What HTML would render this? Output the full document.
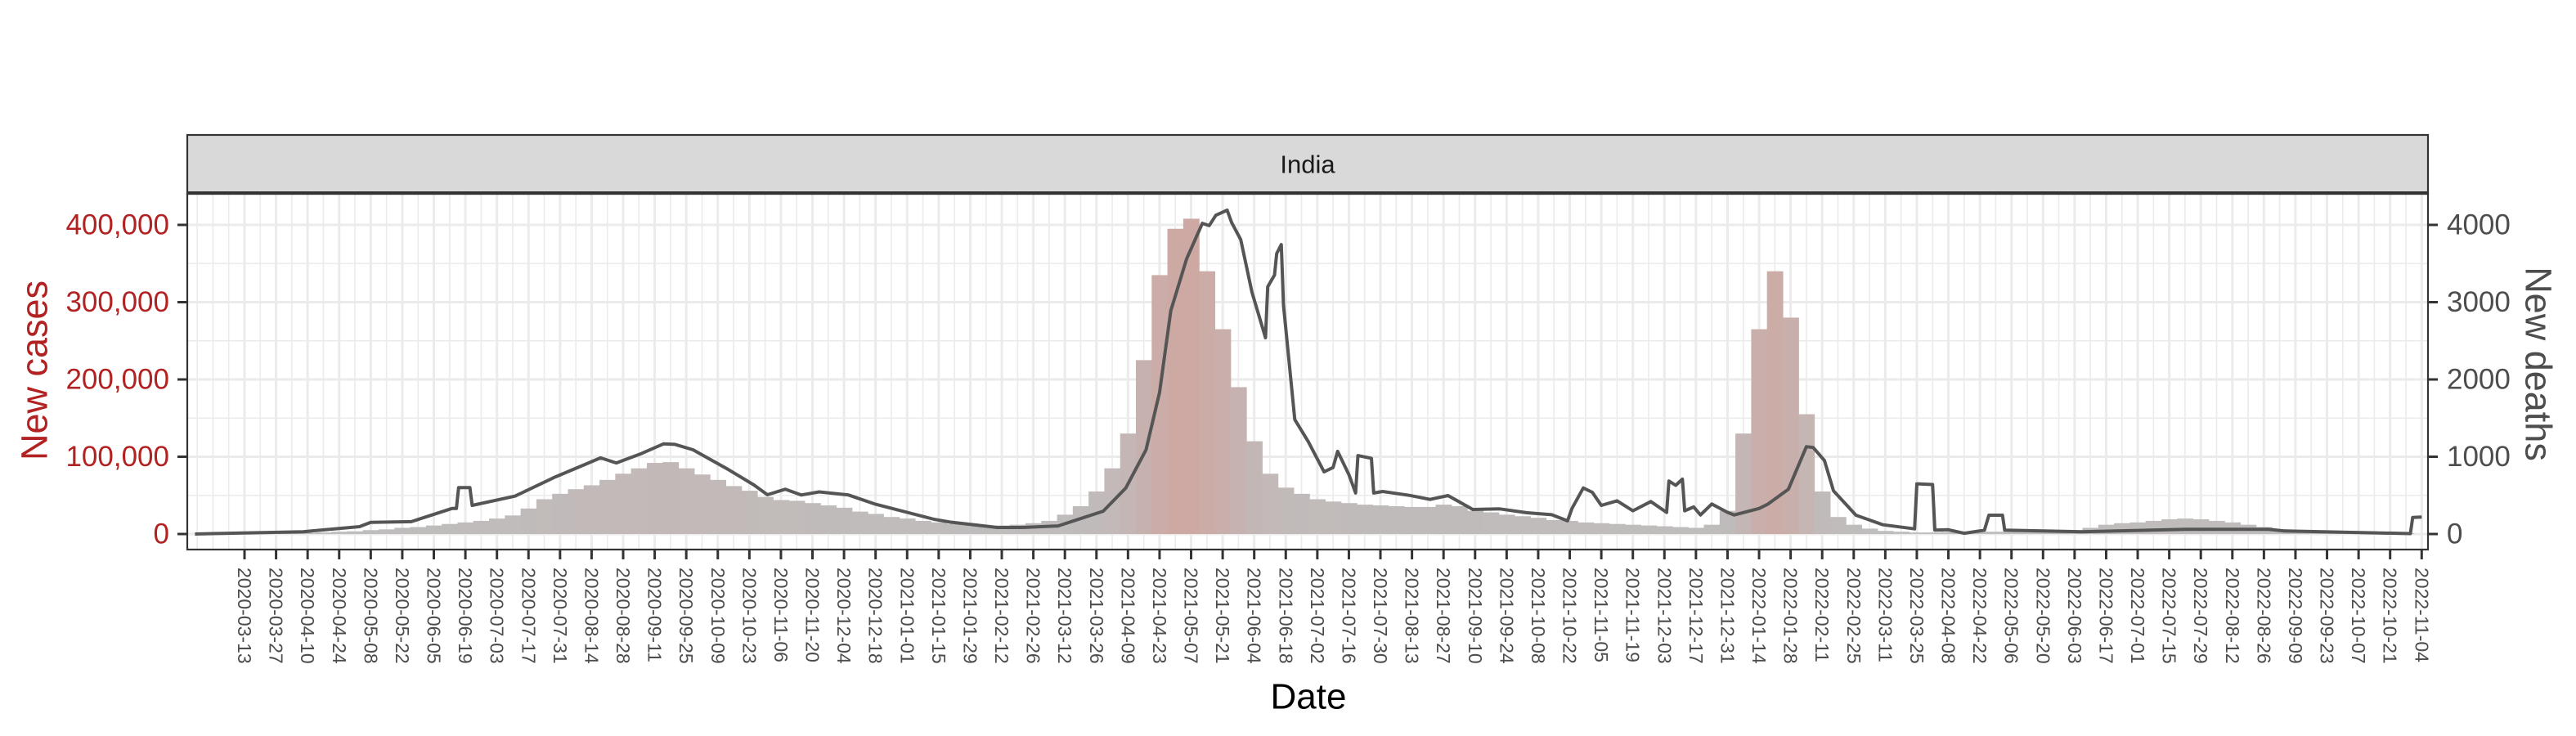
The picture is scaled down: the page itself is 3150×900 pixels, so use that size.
<!DOCTYPE html>
<html><head><meta charset="utf-8"><style>
html,body{margin:0;padding:0;background:#fff;}
svg{display:block;font-family:"Liberation Sans",Arial,sans-serif;}
</style></head><body>
<svg id="chart" width="3150" height="900" viewBox="0 0 3150 900" xmlns="http://www.w3.org/2000/svg">
<rect x="0" y="0" width="3150" height="900" fill="#fff"/>
<g id="grid"></g>
<g id="bars"></g>
<path id="deathLine" fill="none" stroke="#555555" stroke-width="4" stroke-linejoin="round"/>
<rect x="229" y="237" width="2740" height="435" fill="none" stroke="#333" stroke-width="2.2"/>
<rect x="229" y="165" width="2740" height="72" fill="#d9d9d9" stroke="#333" stroke-width="2.2"/>
<line x1="229" y1="236" x2="2969" y2="236" stroke="#333" stroke-width="4"/>
<text x="1599" y="201" font-size="31" fill="#1a1a1a" text-anchor="middle" dominant-baseline="central">India</text>
<g id="yaxisL"></g>
<g id="yaxisR"></g>
<g id="xaxis"></g>
<text transform="translate(42,453) rotate(-90)" font-size="45" fill="#b22222" text-anchor="middle" dominant-baseline="central">New cases</text>
<text transform="translate(3104,445) rotate(90)" font-size="45" fill="#4d4d4d" text-anchor="middle" dominant-baseline="central">New deaths</text>
<text x="1600" y="852" font-size="44" fill="#000" text-anchor="middle" dominant-baseline="central">Date</text>
</svg>
<script>
// weekly case values (thousands), week 0 = 2020-03-13, starting at week -3
const caseWeekStart = -3;
const casesK = [0,0,0,0,0.1,0.5,1,1.5,2,3,3.5,5,6,8,9,11,13,15,17,20,24,33,45,52,58,63,70,78,85,92,93,85,77,70,62,56,48,44,43,40,37,34,29,26,22,20,17,15,13,12,11,11,12,14,17,25,36,55,85,130,225,335,395,408,340,265,190,120,78,60,52,45,42,40,38,37,36,35,35,38,36,30,28,25,23,21,18,17,15,14,13,12,11,10,9,8,12,30,130,265,340,280,155,55,22,12,7,4,3,2,2,2.5,3,3,3,3,2.5,3,3,5,8,12,14,15,17,19,20,19,17,15,12,9,6,4,2.5,2,2,1.5,1,1,1];
// deaths: day offsets from 2020-03-13 and values
const deathDays = [-22,26,51,56,74,92,94,95,100,101,120,138,151,158,165,176,186,191,199,214,226,232,240,247,255,268,280,306,313,334,345,361,381,391,400,406,411,418,425,428,431,436,438,442,447,453,454,457,458,460,461,466,472,479,483,485,490,493,494,500,501,505,517,526,534,545,557,569,580,587,589,594,598,602,609,616,624,631,632,635,638,639,643,646,651,658,661,672,676,685,693,696,701,705,715,727,741,742,749,750,756,763,772,774,780,781,798,815,861,898,905,961,962,966];
const deathVals = [0,30,95,150,160,330,330,600,600,370,490,740,900,985,920,1040,1167,1160,1090,845,635,508,580,505,545,505,385,190,155,85,85,105,295,595,1090,1830,2890,3560,4020,3990,4125,4190,4030,3810,3130,2540,3200,3350,3630,3745,2960,1480,1195,805,860,1070,770,530,1015,980,530,550,500,448,497,317,325,275,250,170,331,596,540,370,430,300,420,279,686,630,710,300,350,247,388,280,247,330,388,580,1130,1120,950,560,243,120,67,650,640,50,55,10,50,243,243,50,40,30,60,60,40,5,215,220];
const leftTicks = [0,100000,200000,300000,400000];
const leftTickLabels = ["0","100,000","200,000","300,000","400,000"];
const rightTicks = [0,1000,2000,3000,4000];
const rightTickLabels = ["0","1000","2000","3000","4000"];
const xTickLabels = ["2020-03-13","2020-03-27","2020-04-10","2020-04-24","2020-05-08","2020-05-22","2020-06-05","2020-06-19","2020-07-03","2020-07-17","2020-07-31","2020-08-14","2020-08-28","2020-09-11","2020-09-25","2020-10-09","2020-10-23","2020-11-06","2020-11-20","2020-12-04","2020-12-18","2021-01-01","2021-01-15","2021-01-29","2021-02-12","2021-02-26","2021-03-12","2021-03-26","2021-04-09","2021-04-23","2021-05-07","2021-05-21","2021-06-04","2021-06-18","2021-07-02","2021-07-16","2021-07-30","2021-08-13","2021-08-27","2021-09-10","2021-09-24","2021-10-08","2021-10-22","2021-11-05","2021-11-19","2021-12-03","2021-12-17","2021-12-31","2022-01-14","2022-01-28","2022-02-11","2022-02-25","2022-03-11","2022-03-25","2022-04-08","2022-04-22","2022-05-06","2022-05-20","2022-06-03","2022-06-17","2022-07-01","2022-07-15","2022-07-29","2022-08-12","2022-08-26","2022-09-09","2022-09-23","2022-10-07","2022-10-21","2022-11-04"];

const NS="http://www.w3.org/2000/svg";
const X0=299, PXD=2.756, Y0=653, PX100K=94.5;
const PL=229, PR=2969, PT=237, PB=672;
function xDay(d){return X0+PXD*d;}
function yCases(v){return Y0-v/100000*PX100K;}
function yDeaths(v){return Y0-v/1000*PX100K;}
function mk(tag,attrs,parent){const e=document.createElementNS(NS,tag);for(const k in attrs)e.setAttribute(k,attrs[k]);parent.appendChild(e);return e;}

const grid=document.getElementById('grid');
for(let v=0; v<=440000; v+=50000){
  const major=v%100000===0;
  const l=mk('line',{x1:PL,x2:PR,y1:yCases(v),y2:yCases(v),stroke:'#ebebeb','stroke-width':major?3:1.6},grid);
  
  
}
for(let d=-21; d<=973; d+=7){
  const x=xDay(d); if(x<PL||x>PR) continue;
  const major=((d%14)+14)%14===0 && d>=0;
  const l=mk('line',{x1:x,x2:x,y1:PT,y2:PB,stroke:'#ebebeb','stroke-width':major?3:1.6},grid);
  
  
}
const bars=document.getElementById('bars');
const bw=7*PXD;
casesK.forEach((v,i)=>{
  const w=caseWeekStart+i;
  const val=v*1000;
  const t=Math.min(1,val/410000);
  const r=Math.round(191+(206-191)*t), g=Math.round(189+(168-189)*t), b=Math.round(189+(163-189)*t);
  const y=yCases(val);
  const rect=mk('rect',{x:xDay(w*7)-bw/2,y:y,width:bw+0.6,height:Math.max(0,Y0-y),fill:`rgb(${r},${g},${b})`},bars);
  
  
});
let dstr='';
deathDays.forEach((d,i)=>{dstr+=(i?'L':'M')+xDay(d).toFixed(1)+','+yDeaths(deathVals[i]).toFixed(1);});
document.getElementById('deathLine').setAttribute('d',dstr);
const yl=document.getElementById('yaxisL');
leftTicks.forEach((v,i)=>{
  const y=yCases(v);
  const t=mk('line',{x1:217,x2:229,y1:y,y2:y,stroke:'#333','stroke-width':3},yl);
  
  
  const tx=mk('text',{x:207,y:y,'font-size':35,fill:'#b22222','text-anchor':'end','dominant-baseline':'central'},yl);
  tx.textContent=leftTickLabels[i];
  
  
});
const yr=document.getElementById('yaxisR');
rightTicks.forEach((v,i)=>{
  const y=yDeaths(v);
  const t=mk('line',{x1:2969,x2:2981,y1:y,y2:y,stroke:'#333','stroke-width':3},yr);
  
  
  const tx=mk('text',{x:2992,y:y,'font-size':35,fill:'#4d4d4d','text-anchor':'start','dominant-baseline':'central'},yr);
  tx.textContent=rightTickLabels[i];
  
  
});
const xa=document.getElementById('xaxis');
xTickLabels.forEach((lab,i)=>{
  const x=xDay(i*14);
  const t=mk('line',{x1:x,x2:x,y1:672,y2:684,stroke:'#333','stroke-width':3},xa);
  
  
  const tx=mk('text',{transform:`translate(${x},694) rotate(90)`,'font-size':23,fill:'#4d4d4d','text-anchor':'start','dominant-baseline':'central'},xa);
  tx.textContent=lab;
  
  
});
</script>
</body></html>
